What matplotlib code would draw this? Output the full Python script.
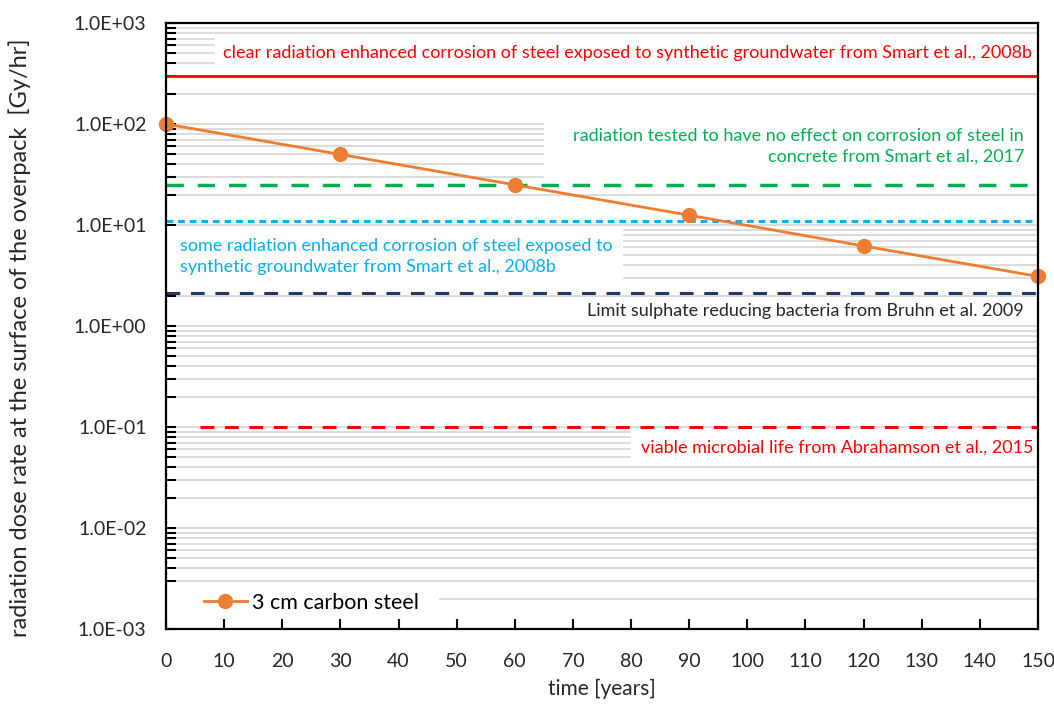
import matplotlib
matplotlib.use("Agg")
import matplotlib.pyplot as plt
from matplotlib.patches import Rectangle
from matplotlib.ticker import LogLocator, FuncFormatter, MultipleLocator, NullFormatter

plt.rcParams['font.family'] = ['Lato', 'DejaVu Sans']

# data
years = [0, 30, 60, 90, 120, 150]
dose_rate = [100, 50, 25, 12.5, 6.2, 3.1]

# reference limits [Gy/hr]
clear_enhanced = 300
no_effect_concrete = 25
some_enhanced = 11
srb_limit = 2.1
microbial_life = 0.1

fig = plt.figure(figsize=(10.54, 7.04), dpi=100)
ax = fig.add_axes([0.1575, 0.1065, 0.8273, 0.8608])

ax.set_yscale('log')
ax.set_xlim(0, 150)
ax.set_ylim(1e-3, 1e3)

# gridlines behind white "text boxes"
ax.set_axisbelow(True)
ax.yaxis.set_major_locator(LogLocator(base=10, numticks=10))
ax.yaxis.set_minor_locator(LogLocator(base=10, subs=range(2, 10), numticks=20))
ax.yaxis.set_minor_formatter(NullFormatter())
ax.yaxis.set_major_formatter(FuncFormatter(lambda v, p: f"{v:.1E}"))
ax.grid(which='both', axis='y', color='#D9D9D9', lw=1.3)
ax.xaxis.set_major_locator(MultipleLocator(10))

# white boxes that hide the gridlines under labels (x0, x1, y0, y1)
boxes = [(8.5, 150, 350, 780),
         (65, 150, 27, 150),
         (0, 78.6, 2.2, 9.6),
         (80, 150, 0.044, 0.097),
         (0, 47, 1.7e-3, 2.5e-3)]
for x0, x1, y0, y1 in boxes:
    ax.add_patch(Rectangle((x0, y0), x1 - x0, y1 - y0, facecolor='white',
                           edgecolor='none', zorder=1))

# limit lines
ax.axhline(clear_enhanced, color='#FF0000', lw=2, zorder=2)
ax.axhline(no_effect_concrete, color='#00B050', lw=2.5, dashes=(5, 4), zorder=2)
ax.axhline(some_enhanced, color='#00B0F0', lw=2.2, dashes=(2.2, 1.6), zorder=2)
ax.axhline(srb_limit, color='#203864', lw=2.2, dashes=(4.5, 3.5), zorder=2)
ax.plot([5.9, 150], [microbial_life, microbial_life], color='#FF0000', lw=2.2,
        dashes=(4.5, 3.5), zorder=2)

ax.plot(years, dose_rate, color='#ED7D31', lw=2, marker='o', markersize=10,
        label='3 cm carbon steel', zorder=3, clip_on=False)

fs = 13
ax.text(149, 505, 'clear radiation enhanced corrosion of steel exposed to synthetic groundwater from Smart et al., 2008b',
        color='#FF0000', fontsize=fs, ha='right', va='center', zorder=4)
ax.text(147.6, 60, 'radiation tested to have no effect on corrosion of steel in\nconcrete from Smart et al., 2017',
        color='#00B050', fontsize=fs, ha='right', va='center', multialignment='right',
        linespacing=1.35, zorder=4)
ax.text(2.4, 4.9, 'some radiation enhanced corrosion of steel exposed to\nsynthetic groundwater from Smart et al., 2008b',
        color='#00B0F0', fontsize=fs, ha='left', va='center', linespacing=1.35, zorder=4)
ax.text(147.5, 1.42, 'Limit sulphate reducing bacteria from Bruhn et al. 2009',
        color='#262626', fontsize=fs, ha='right', va='center', zorder=4)
ax.text(149.2, 0.062, 'viable microbial life from Abrahamson et al., 2015',
        color='#FF0000', fontsize=fs, ha='right', va='center', zorder=4)

leg = ax.legend(loc='lower left', bbox_to_anchor=(0.025, 0.0), frameon=False,
                fontsize=15.5, handlelength=2.0, handletextpad=0.25,
                borderaxespad=0.35)

for s in ax.spines.values():
    s.set_color('black')
    s.set_linewidth(1.6)
    s.set_zorder(5)

ax.tick_params(axis='both', which='both', direction='in', color='black',
               labelcolor='#262626', labelsize=14)
ax.tick_params(axis='y', which='major', length=7, width=1.5, pad=14)
ax.tick_params(axis='y', which='minor', length=7, width=1.5)
ax.tick_params(axis='x', which='major', length=7, width=1.5, pad=17)

ax.set_xlabel('time [years]', fontsize=15, color='#262626', labelpad=7)
ax.set_ylabel('radiation dose rate at the surface of the overpack  [Gy/hr]',
              fontsize=17, color='#262626')
ax.yaxis.set_label_coords(-0.155, 0.48)

fig.savefig('out.png', dpi=100)
